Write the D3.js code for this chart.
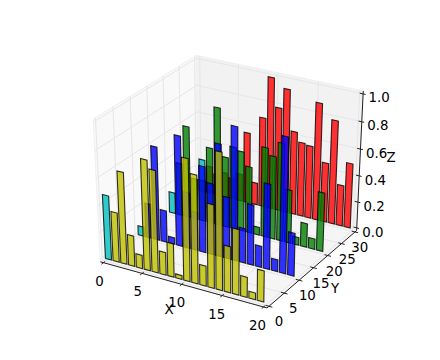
<!DOCTYPE html>
<html lang="en">
<head>
<meta charset="UTF-8">
<title>bars3d</title>
<style>body{margin:0;background:#fff}</style>
</head>
<body>
<script src="https://d3js.org/d3.v7.min.js"></script>
<script>
const width = 440, height = 360;

// one row of bars per y position, back to front
const rows = [30, 20, 10, 0];
const rowColors = ["#ff0000", "#008000", "#0000ff", "#bfbf00"];
const firstBarColor = "#00bfbf"; // first bar of every row
const barsRed = [.25,.21,.16,.19,.16,.21,.54,.17,.68,.99,.78,.93,.63,.56,.55,.88,.45,.78,.31,.49];
const barsGreen = [.16,.40,.69,.31,.31,.57,.88,.53,.62,.60,.50,.06,.67,.62,.73,.40,.06,.18,.08,.44];
const barsBlue = [.07,.26,.70,.24,.05,.82,.42,.29,.64,.53,.83,.46,.98,.26,.45,.16,.63,.09,.99,.32];
const barsYellow = [.48,.37,.68,.23,.10,.81,.75,.17,.25,.03,.89,.79,.15,.61,.99,.34,.48,.15,.05,.23];
const rowValues = [barsRed, barsGreen, barsBlue, barsYellow];

const xTicks = [0, 5, 10, 15, 20];
const yTicks = [0, 5, 10, 15, 20, 25, 30];
const zTicks = [0, 0.2, 0.4, 0.6, 0.8, 1.0];
const barWidth = 0.8;

const svg = d3.select("body").append("svg")
    .attr("width", width).attr("height", height)
    .style("display", "block")
    .style("font-family", "'DejaVu Sans'");

const sx = d3.scaleLinear().domain([0, 20]).range([0, 1]);
const sy = d3.scaleLinear().domain([0, 30]).range([0, 1]);
const sz = d3.scaleLinear().domain([0, 1]).range([0, 1]);

// the box sticks out of the data limits by 1/48 on each side, as in mplot3d
const [x0, x1] = [sx.invert(-1 / 48), sx.invert(1 + 1 / 48)];
const [y0, y1] = [sy.invert(-1 / 48), sy.invert(1 + 1 / 48)];
const [z0, z1] = [sz.invert(-1 / 48), sz.invert(1 + 1 / 48)];

// same camera as mplot3d defaults
const elev = 30 * Math.PI / 180, azim = -60 * Math.PI / 180, dist = 10;
const eye = [0.5 + dist * Math.cos(elev) * Math.cos(azim),
             0.5 + dist * Math.cos(elev) * Math.sin(azim),
             0.5 + dist * Math.sin(elev)];
const sub = (a, b) => a.map((v, i) => v - b[i]);
const dot = (a, b) => a[0] * b[0] + a[1] * b[1] + a[2] * b[2];
const cross = (a, b) => [a[1] * b[2] - a[2] * b[1], a[2] * b[0] - a[0] * b[2], a[0] * b[1] - a[1] * b[0]];
const norm = a => { const l = Math.sqrt(dot(a, a)); return a.map(v => v / l); };
const n = norm(sub(eye, [.5, .5, .5]));
const u = norm(cross([0, 0, 1], n));
const v = cross(n, u);

const px = d3.scaleLinear().domain([-0.1, 0.1]).range([45.7, 415.3]);
const py = d3.scaleLinear().domain([-0.1, 0.1]).range([333.5, 20.9]);

function project(x, y, z) {
    const p = sub([sx(x), sy(y), sz(z)], eye);
    const d = -dot(p, n);
    return [px(dot(p, u) / d), py(dot(p, v) / d), d];
}
const path = pts => "M" + pts.map(p => project(...p).slice(0, 2).join(",")).join("L") + "Z";
const line = (a, b) => "M" + project(...a).slice(0, 2).join(",") + "L" + project(...b).slice(0, 2).join(",");

// back panes
const panes = [
    {pts: [[x0, y0, z0], [x1, y0, z0], [x1, y1, z0], [x0, y1, z0]], fill: "#f5f5f5"},
    {pts: [[x0, y0, z0], [x0, y1, z0], [x0, y1, z1], [x0, y0, z1]], fill: "#f9f9f9"},
    {pts: [[x0, y1, z0], [x1, y1, z0], [x1, y1, z1], [x0, y1, z1]], fill: "#f2f2f2"}
];
svg.append("g").selectAll("path").data(panes).join("path")
    .attr("d", d => path(d.pts)).attr("fill", d => d.fill)
    .attr("stroke", "#f0f0f0").attr("stroke-width", 1);

// grid lines
const grid = [];
xTicks.forEach(t => { grid.push(line([t, y0, z0], [t, y1, z0])); grid.push(line([t, y1, z0], [t, y1, z1])); });
yTicks.forEach(t => { grid.push(line([x0, t, z0], [x1, t, z0])); grid.push(line([x0, t, z0], [x0, t, z1])); });
zTicks.forEach(t => { grid.push(line([x0, y0, t], [x0, y1, t])); grid.push(line([x0, y1, t], [x1, y1, t])); });
svg.append("g").selectAll("path").data(grid).join("path")
    .attr("d", d => d).attr("stroke", "#e6e6e6").attr("stroke-width", 1).attr("fill", "none");

// axis lines, ticks
const axes = svg.append("g").attr("stroke", "#222").attr("fill", "none").attr("stroke-width", 1);
axes.append("path").attr("d", line([x0, y0, z0], [x1, y0, z0]));
axes.append("path").attr("d", line([x1, y0, z0], [x1, y1, z0]));
axes.append("path").attr("d", line([x1, y1, z0], [x1, y1, z1]));

function tick(a, b) { axes.append("path").attr("d", line(a, b)); }
xTicks.forEach(t => tick([t, y0 + 0.5, z0], [t, y0 - 0.6, z0]));
yTicks.forEach(t => tick([x1 - 0.4, t, z0], [x1 + 0.4, t, z0]));
zTicks.forEach(t => tick([x1 - 0.4, y1, t], [x1 + 0.3, y1, t]));

const label = (x, y, s, anchor) => svg.append("text").attr("x", x).attr("y", y)
    .attr("text-anchor", anchor || "middle").attr("font-size", 13.33).attr("fill", "#000").text(s);
xTicks.forEach(t => { const p = project(t, y0, z0); label(p[0] - 4 - 0.1 * t, p[1] + 23, t); });
yTicks.forEach(t => { const p = project(x1, t, z0); label(p[0] + 10 - 0.17 * t, p[1] + 20, t); });
zTicks.forEach(t => { const p = project(x1, y1, t); label(p[0] + 5.5, p[1] + 9.5 - 1.5 * t, t.toFixed(1), "start"); });
label(169, 314, "X");
label(335, 293, "Y");
label(391, 162, "Z");

// flat bars sorted far to near
const bars = [];
rows.forEach((y, r) => rowValues[r].forEach((h, i) => {
    bars.push({x: i, y, h, color: i === 0 ? firstBarColor : rowColors[r]});
}));
bars.forEach(b => { b.depth = project(b.x + barWidth / 2, b.y, b.h / 2)[2]; });
bars.sort((a, b) => d3.descending(a.depth, b.depth));

svg.append("g").selectAll("path").data(bars).join("path")
    .attr("d", b => path([[b.x, b.y, 0], [b.x + barWidth, b.y, 0], [b.x + barWidth, b.y, b.h], [b.x, b.y, b.h]]))
    .attr("fill", b => b.color)
    .attr("fill-opacity", 0.8)
    .attr("stroke", "#000")
    .attr("stroke-opacity", 0.8)
    .attr("stroke-width", 1.1);
</script>
</body>
</html>
